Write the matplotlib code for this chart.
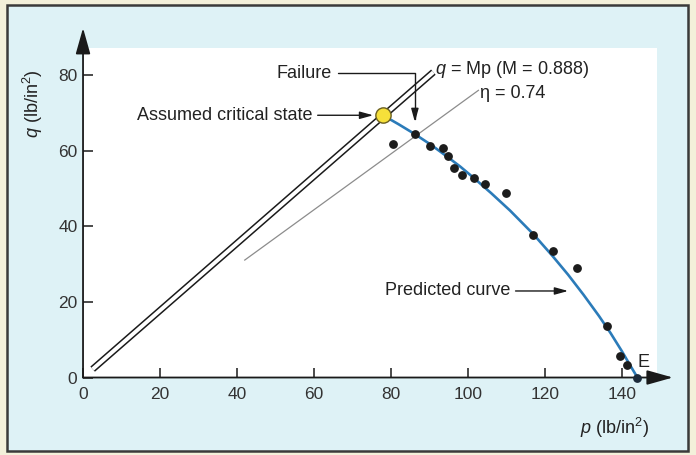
import matplotlib
matplotlib.use("Agg")
import matplotlib.pyplot as plt
from matplotlib.patches import Rectangle
import numpy as np

plt.rcParams['font.family'] = ['Liberation Sans', 'DejaVu Sans']
plt.rcParams['mathtext.fontset'] = 'custom'
plt.rcParams['mathtext.rm'] = 'Liberation Sans'
plt.rcParams['mathtext.it'] = 'Liberation Sans:italic'

# critical state line q = Mp and stress ratio line
M = 0.888
ETA = 0.74
csl_p = [2.5, 91.0]
eta_p = [42.0, 102.7]

# measured points (p, q) in lb/in^2
test_p = [80.5, 86.2, 90.0, 93.5, 94.8, 96.3, 98.4, 101.6, 104.5, 109.8,
          117.0, 122.2, 128.2, 136.0, 139.5, 141.2]
test_q = [61.9, 64.4, 61.3, 60.8, 58.5, 55.5, 53.5, 52.8, 51.3, 48.9,
          37.6, 33.6, 29.1, 13.6, 5.6, 3.2]

# predicted undrained path
pred_p = [77.9, 82.0, 86.2, 90.5, 94.9, 98.0, 101.4, 106.0, 110.9, 114.0,
          117.0, 122.0, 126.0, 130.0, 134.0, 137.0, 140.0, 142.3, 144.0]
pred_q = [69.4, 67.0, 64.4, 61.5, 58.2, 55.8, 52.9, 48.8, 44.2, 41.0,
          37.9, 32.1, 27.2, 21.9, 16.3, 11.8, 6.9, 2.9, 0.0]

crit_p, crit_q = 77.9, 69.4
end_p, end_q = 144.0, 0.0

xticks = [0, 20, 40, 60, 80, 100, 120, 140]
yticks = [0, 20, 40, 60, 80]

fig = plt.figure(figsize=(6.96, 4.55), dpi=100)
fig.patch.set_facecolor('#f3f0da')
fig.patches.append(Rectangle((0.010, 0.009), 0.979, 0.980, transform=fig.transFigure,
                             facecolor='#def2f6', edgecolor='#3a3a3a', lw=1.8, zorder=-10))

ax = fig.add_axes([0.1193, 0.1703, 0.8242, 0.7242])
ax.set_facecolor('white')
ax.set_xlim(0, 149)
ax.set_ylim(0, 87.2)
for s in ax.spines.values():
    s.set_visible(False)

# axes with arrow heads
ax.annotate('', xy=(0, 92.5), xytext=(0, 0),
            arrowprops=dict(arrowstyle='-|>,head_length=1.6,head_width=0.45', color='#1a1a1a',
                            lw=1.3, shrinkA=0, shrinkB=0, mutation_scale=10),
            annotation_clip=False)
ax.annotate('', xy=(153.2, 0), xytext=(0, 0),
            arrowprops=dict(arrowstyle='-|>,head_length=1.6,head_width=0.45', color='#1a1a1a',
                            lw=1.3, shrinkA=0, shrinkB=0, mutation_scale=10),
            annotation_clip=False)

ax.set_xticks(xticks)
ax.set_yticks(yticks)
ax.tick_params(direction='in', length=7, width=1.1, color='#1a1a1a', labelsize=12.5,
               labelcolor='#333333')
ax.tick_params(axis='x', pad=7)
ax.tick_params(axis='y', pad=4)

# q = Mp drawn as a double line
csl_q = [M * v for v in csl_p]
ax.plot(csl_p, csl_q, color='#1a1a1a', lw=5.0, solid_capstyle='butt', zorder=2)
ax.plot(csl_p, csl_q, color='white', lw=2.8, solid_capstyle='butt', zorder=2.1)

eta_q = [ETA * v for v in eta_p]
ax.plot(eta_p, eta_q, color='#8c8c8c', lw=0.9, zorder=2)

ax.plot(pred_p, pred_q, color='#2b7bb9', lw=1.9, zorder=3)
ax.plot(test_p, test_q, 'o', color='#1c1c1c', ms=5.3, zorder=4)
ax.plot([end_p], [end_q], 'o', color='#1c2a3a', ms=5.3, zorder=4, clip_on=False)
ax.plot([crit_p], [crit_q], 'o', color='#f6e03a', mec='#6b6020', mew=1, ms=11, zorder=5)

fs = 13
tc = '#222222'
ax.text(91.5, 81.4, '$q$ = Mp (M = 0.888)', fontsize=fs, color=tc, ha='left', va='center')
ax.text(103.0, 75.2, 'η = 0.74', fontsize=fs, color=tc, ha='left', va='center')
ax.text(144.0, 4.0, 'E', fontsize=fs, color=tc, ha='left', va='center')

arr = dict(arrowstyle='-|>,head_length=0.8,head_width=0.22', color='#1a1a1a', lw=1.0,
           mutation_scale=10, shrinkA=2)
ax.annotate('Failure', xy=(86.2, 67.6), xytext=(64.7, 80.5), fontsize=fs, color=tc,
            ha='right', va='center',
            arrowprops=dict(arr, connectionstyle='angle,angleA=0,angleB=90,rad=0', shrinkB=0))
ax.annotate('Assumed critical state', xy=(crit_p, crit_q), xytext=(59.5, 69.4), fontsize=fs,
            color=tc, ha='right', va='center', arrowprops=dict(arr, shrinkB=7))
ax.annotate('Predicted curve', xy=(126.0, 22.9), xytext=(110.9, 22.9), fontsize=fs,
            color=tc, ha='right', va='center', arrowprops=dict(arr, shrinkB=0))

fig.text(615 / 696, 1 - 428 / 455, '$p$ (lb/in$^2$)', fontsize=fs, color=tc,
         ha='center', va='center')
fig.text(33 / 696, 1 - 104 / 455, '$q$ (lb/in$^2$)', fontsize=fs, color=tc,
         ha='center', va='center', rotation=90)

fig.savefig('out.png', dpi=100, facecolor=fig.get_facecolor())
